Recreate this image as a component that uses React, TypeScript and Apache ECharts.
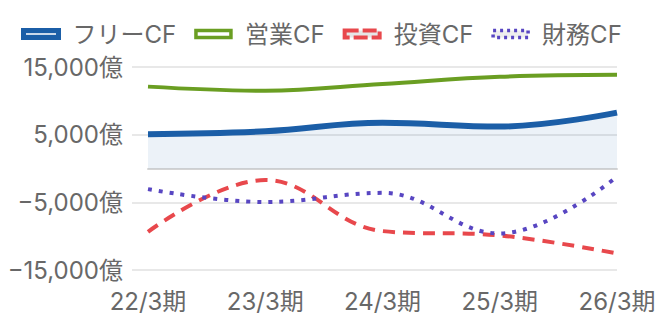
import React, { useEffect, useRef } from "react";
import * as echarts from "echarts";

const categories = ["22/3期", "23/3期", "24/3期", "25/3期", "26/3期"];
const seriesNames = ["フリーCF", "営業CF", "投資CF", "財務CF"];
const freeCF = [5080, 5500, 6750, 6200, 8250];
const operatingCF = [12100, 11500, 12500, 13550, 13850];
const investingCF = [-9350, -1700, -9250, -9900, -12550];
const financingCF = [-3050, -4950, -3600, -9600, -1200];
const yTicks = [-15000, -5000, 5000, 15000];

const BLUE = "#1b5ea7";
const GREEN = "#6a9e22";
const RED = "#e8484c";
const PURPLE = "#5846c2";
const FONT = "Inter, 'Noto Sans CJK JP', sans-serif";
const TEXT = "#686868";

function fmt(v: number): string {
  const s = Math.abs(v).toLocaleString("en-US");
  return (v < 0 ? "\u2212" : "") + s + "億";
}

export default function App() {
  const ref = useRef<HTMLDivElement>(null);
  useEffect(() => {
    if (!ref.current) return;
    const chart = echarts.init(ref.current, undefined, { renderer: "svg" });
    const yMin = yTicks[0];
    const yMax = yTicks[yTicks.length - 1];
    const interval = yTicks[1] - yTicks[0];
    chart.setOption({
      animation: false,
      textStyle: { fontFamily: FONT },
      legend: {
        top: 17,
        left: 16,
        icon: "rect",
        itemWidth: 35,
        itemHeight: 7,
        itemGap: 18,
        textStyle: { fontSize: 24, color: TEXT, fontFamily: FONT, padding: [0, 0, 0, 9] },
        data: [
          { name: seriesNames[0], itemStyle: { color: "#c9d8ea", borderColor: BLUE, borderWidth: 5 } },
          { name: seriesNames[1], itemStyle: { color: "#ffffff", borderColor: GREEN, borderWidth: 3.5 } },
          { name: seriesNames[2], itemStyle: { color: "#e6e6e6", borderColor: RED, borderWidth: 4, borderType: [14, 4] } },
          { name: seriesNames[3], itemStyle: { color: "#eeeeee", borderColor: PURPLE, borderWidth: 3.5, borderType: [3, 4] } },
        ],
      },
      grid: [
        { left: 132, right: 43, top: 67, bottom: 60 },
        { left: 148, right: 43, top: 67, bottom: 60 },
      ],
      xAxis: [
        { type: "category", gridIndex: 0, show: false, data: categories, boundaryGap: false },
        {
          type: "category",
          gridIndex: 1,
          data: categories,
          boundaryGap: false,
          axisLine: { lineStyle: { color: "#d4d4d4", width: 2 } },
          axisTick: { show: false },
          axisLabel: { color: TEXT, fontSize: 24, fontFamily: FONT, margin: 19 },
          splitLine: { show: false },
        },
      ],
      yAxis: [
        {
          type: "value",
          gridIndex: 0,
          min: yMin,
          max: yMax,
          interval: interval,
          axisLine: { show: false },
          axisTick: { show: false },
          axisLabel: { color: TEXT, fontSize: 24, fontFamily: FONT, margin: 9, formatter: (v: number) => fmt(v) },
          splitLine: { lineStyle: { color: "#e8e8e8", width: 2 } },
        },
        {
          type: "value",
          gridIndex: 1,
          min: yMin,
          max: yMax,
          interval: interval,
          show: false,
          splitLine: { show: false },
        },
      ],
      series: [
        {
          name: seriesNames[0],
          type: "line",
          xAxisIndex: 1,
          yAxisIndex: 1,
          data: freeCF,
          smooth: 0.4,
          symbol: "none",
          lineStyle: { color: BLUE, width: 6 },
          itemStyle: { color: BLUE },
          areaStyle: { color: "rgba(27,94,167,0.12)", origin: 0 },
          z: 3,
        },
        {
          name: seriesNames[1],
          type: "line",
          xAxisIndex: 1,
          yAxisIndex: 1,
          data: operatingCF,
          smooth: 0.4,
          symbol: "none",
          lineStyle: { color: GREEN, width: 4 },
          itemStyle: { color: GREEN },
          z: 3,
        },
        {
          name: seriesNames[2],
          type: "line",
          xAxisIndex: 1,
          yAxisIndex: 1,
          data: investingCF,
          smooth: 0.4,
          symbol: "none",
          lineStyle: { color: RED, width: 4, type: [12, 8] },
          itemStyle: { color: RED },
          z: 3,
        },
        {
          name: seriesNames[3],
          type: "line",
          xAxisIndex: 1,
          yAxisIndex: 1,
          data: financingCF,
          smooth: 0.4,
          symbol: "none",
          lineStyle: { color: PURPLE, width: 4, type: [4, 7] },
          itemStyle: { color: PURPLE },
          z: 3,
        },
      ],
    });
    return () => chart.dispose();
  }, []);
  return <div ref={ref} style={{ width: 660, height: 330, position: "absolute", left: 0, top: 0 }} />;
}
